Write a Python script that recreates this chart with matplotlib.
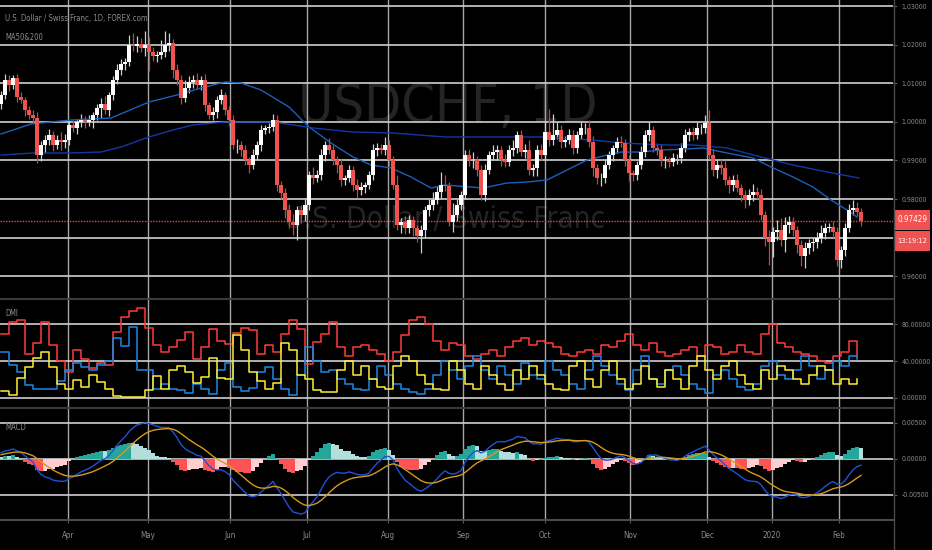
import numpy as np
import matplotlib
matplotlib.use('Agg')
import matplotlib.pyplot as plt
from matplotlib import font_manager as fm
from matplotlib.patches import Rectangle
from matplotlib.lines import Line2D

W, H = 932, 550

# daily closes, USDCHF
first_open = 1.00450
closes = [
    1.00695, 1.01083, 1.00954, 1.01135, 1.00643, 1.00565, 1.00306, 1.00177, 1.00099, 0.99140,
    0.99400, 0.99529, 0.99659, 0.99400, 0.99529, 0.99477, 0.99529, 0.99918, 0.99840, 0.99995,
    1.00047, 0.99995, 1.00047, 1.00177, 1.00358, 1.00462, 1.00306, 1.00695, 1.01083, 1.01343,
    1.01498, 1.01550, 1.01990, 1.01964, 1.02016, 1.01913, 1.01990, 1.01809, 1.01705, 1.01731,
    1.01809, 1.01990, 1.02042, 1.01343, 1.01083, 1.00617, 1.00876, 1.01032, 1.01083, 1.00954,
    1.01083, 1.00436, 1.00177, 1.00254, 1.00565, 1.00695, 1.00306, 1.00047, 0.99400, 0.99400,
    0.99270, 0.99011, 0.98881, 0.99140, 0.99400, 0.99788, 0.99840, 0.99866, 1.00047, 0.98363,
    0.98156, 0.97716, 0.97405, 0.97327, 0.97716, 0.97586, 0.97845, 0.98622, 0.98545, 0.98622,
    0.99140, 0.99400, 0.99270, 0.99011, 0.98881, 0.98493, 0.98545, 0.98752, 0.98363, 0.98234,
    0.98311, 0.98363, 0.98622, 0.99270, 0.99322, 0.99270, 0.99400, 0.99011, 0.98363, 0.97327,
    0.97405, 0.97249, 0.97457, 0.97249, 0.97042, 0.97197, 0.97716, 0.97845, 0.97975, 0.98182,
    0.98363, 0.98337, 0.97405, 0.97586, 0.97845, 0.98104, 0.99140, 0.99011, 0.99011, 0.98752,
    0.98104, 0.98752, 0.99140, 0.99218, 0.99270, 0.99011, 0.98959, 0.99270, 0.99322, 0.99659,
    0.99218, 0.99270, 0.98752, 0.98804, 0.99270, 0.99140, 0.99736, 0.99529, 0.99659, 0.99788,
    0.99477, 0.99529, 0.99659, 0.99322, 0.99659, 0.99840, 0.99840, 0.99477, 0.98804, 0.98545,
    0.98545, 0.98881, 0.99140, 0.99322, 0.99477, 0.99451, 0.99011, 0.98674, 0.98622, 0.98881,
    0.99218, 0.99659, 0.99788, 0.99322, 0.99270, 0.99011, 0.99011, 0.98959, 0.99063, 0.99063,
    0.99322, 0.99659, 0.99736, 0.99659, 0.99840, 0.99840, 0.99969, 0.99140, 0.98752, 0.98881,
    0.98804, 0.98493, 0.98363, 0.98493, 0.98286, 0.98104, 0.97975, 0.98104, 0.98182, 0.98104,
    0.97586, 0.96990, 0.96887, 0.97146, 0.97197, 0.96938, 0.97327, 0.97405, 0.97197, 0.96809,
    0.96524, 0.96731, 0.96861, 0.96887, 0.96990, 0.97120, 0.97249, 0.97275, 0.97146, 0.96420,
    0.96679, 0.97249, 0.97716, 0.97767, 0.97664, 0.97429,
]
# wick lengths beyond the body, in pips
wick_up = [
    10, 15, 12, 8, 10, 12, 8, 10, 12, 15,
    10, 12, 15, 10, 12, 20, 15, 10, 12, 8,
    15, 10, 12, 8, 10, 15, 20, 8, 10, 15,
    12, 10, 25, 30, 20, 15, 35, 20, 12, 10,
    30, 35, 25, 10, 15, 12, 20, 15, 12, 18,
    10, 15, 8, 12, 10, 15, 8, 10, 12, 15,
    10, 12, 8, 15, 10, 12, 8, 10, 15, 12,
    10, 12, 15, 20, 10, 12, 15, 10, 20, 12,
    15, 10, 18, 12, 10, 15, 8, 12, 10, 15,
    12, 8, 10, 15, 12, 10, 20, 12, 10, 25,
    10, 15, 12, 10, 8, 12, 10, 15, 20, 15,
    35, 25, 10, 30, 15, 10, 12, 15, 20, 10,
    12, 15, 10, 18, 12, 10, 15, 12, 20, 10,
    12, 15, 25, 10, 12, 15, 25, 60, 55, 20,
    12, 10, 15, 12, 10, 15, 12, 20, 15, 10,
    12, 15, 10, 8, 12, 15, 10, 12, 8, 10,
    15, 12, 20, 10, 12, 15, 10, 8, 12, 10,
    12, 15, 10, 12, 15, 10, 20, 35, 15, 12,
    15, 20, 10, 12, 15, 10, 12, 15, 20, 12,
    15, 10, 20, 12, 25, 30, 20, 15, 12, 10,
    12, 15, 10, 12, 15, 20, 12, 10, 15, 12,
    10, 12, 15, 20, 15, 10,
]
wick_dn = [
    12, 10, 15, 10, 12, 8, 15, 10, 12, 20,
    15, 20, 12, 15, 10, 20, 15, 12, 10, 15,
    12, 15, 10, 20, 12, 25, 10, 15, 12, 10,
    12, 15, 10, 12, 15, 10, 20, 50, 12, 15,
    10, 12, 15, 20, 12, 15, 10, 12, 15, 10,
    12, 15, 10, 12, 15, 10, 12, 15, 10, 20,
    15, 12, 20, 10, 12, 15, 10, 12, 10, 15,
    15, 20, 15, 25, 40, 20, 15, 12, 15, 10,
    12, 15, 10, 12, 20, 15, 12, 10, 15, 20,
    12, 15, 10, 12, 15, 10, 12, 15, 10, 12,
    20, 15, 12, 20, 15, 45, 20, 15, 12, 10,
    15, 12, 10, 25, 15, 12, 10, 15, 20, 15,
    12, 15, 10, 12, 20, 15, 12, 10, 15, 12,
    10, 15, 12, 15, 20, 12, 10, 15, 12, 10,
    15, 12, 10, 15, 12, 10, 15, 12, 20, 15,
    20, 12, 10, 15, 12, 10, 15, 20, 15, 12,
    10, 12, 15, 10, 12, 15, 20, 12, 10, 15,
    12, 10, 15, 12, 10, 15, 12, 10, 15, 20,
    15, 12, 20, 15, 10, 15, 20, 12, 15, 10,
    12, 20, 60, 40, 20, 15, 30, 20, 15, 20,
    25, 30, 15, 20, 15, 12, 15, 10, 12, 15,
    20, 15, 10, 12, 10, 12,
]

# moving averages, read at sample bars
ma50_bar = [0, 7.5, 17.5, 27.5, 37, 44, 50, 56, 60, 65, 72, 77, 82.5, 88, 92.5, 97.5, 102.5,
            107.5, 111, 120.5, 126.5, 131.5, 136.5, 140, 146.5, 151.5, 155, 160, 165, 171.5,
            175.5, 181.5, 188, 192.5, 198, 203, 207.5, 211.5, 214]
ma50_val = [0.99685, 0.99944, 1.00047, 1.00099, 1.00513, 1.00695, 1.00876, 1.01032, 1.01006,
            1.00824, 1.00384, 0.99866, 0.99451, 0.99089, 0.98881, 0.98804, 0.98571, 0.98286,
            0.98363, 0.98286, 0.98415, 0.98441, 0.98493, 0.98674, 0.99011, 0.99140, 0.99218,
            0.99218, 0.99270, 0.99296, 0.99322, 0.99192, 0.99063, 0.98830, 0.98571, 0.98311,
            0.97975, 0.97716, 0.97534]
ma200_bar = [0, 8, 17, 25, 30, 37, 43, 48, 56, 68, 78, 88, 98, 111, 118, 135, 147.5, 155.5,
             166, 173, 181.5, 190, 198, 206.5, 214.5]
ma200_val = [0.99140, 0.99192, 0.99192, 0.99218, 0.99348, 0.99607, 0.99788, 0.99918, 0.99995,
             0.99995, 0.99840, 0.99736, 0.99710, 0.99607, 0.99607, 0.99607, 0.99529, 0.99451,
             0.99400, 0.99400, 0.99322, 0.99089, 0.98881, 0.98700, 0.98545]

# DMI, one value every 2 bars
dmi_red = [70, 83, 85, 48, 60, 82, 57, 40, 28, 52, 42, 32, 38, 36, 72, 88, 94, 98, 76, 58,
           50, 55, 63, 72, 42, 55, 75, 62, 59, 71, 76, 74, 48, 58, 50, 70, 85, 75, 37, 61,
           70, 82, 55, 45, 55, 58, 52, 48, 40, 50, 68, 85, 88, 80, 62, 52, 60, 58, 45, 42,
           48, 52, 45, 55, 62, 65, 58, 62, 60, 55, 48, 45, 50, 52, 48, 58, 55, 62, 70, 58,
           52, 60, 50, 45, 48, 52, 55, 45, 58, 55, 48, 50, 58, 50, 48, 70, 80, 60, 55, 50,
           48, 45, 40, 38, 45, 50, 62, 45]
dmi_blue = [50, 36, 28, 14, 10, 10, 9, 18, 30, 38, 34, 30, 36, 40, 65, 56, 77, 30, 30, 10,
            15, 10, 8, 5, 15, 10, 4, 30, 38, 12, 7, 11, 28, 34, 20, 10, 3, 25, 55, 40,
            28, 30, 20, 15, 10, 8, 20, 35, 25, 15, 10, 6, 4, 10, 25, 40, 30, 20, 35, 45,
            30, 20, 35, 25, 15, 38, 25, 20, 40, 30, 25, 15, 10, 30, 45, 35, 25, 15, 8, 30,
            45, 20, 15, 30, 35, 25, 15, 10, 5, 25, 30, 20, 12, 8, 15, 35, 40, 25, 20, 30,
            45, 35, 20, 30, 40, 35, 45, 42]
dmi_yellow = [7, 3, 22, 33, 43, 50, 33, 15, 9, 19, 12, 25, 17, 10, 2, 1, 1, 1, 8, 24,
              9, 30, 35, 28, 16, 23, 43, 22, 20, 68, 52, 28, 18, 10, 16, 60, 52, 25, 20, 8,
              6, 6, 30, 40, 25, 35, 20, 12, 10, 35, 45, 40, 25, 15, 10, 8, 40, 30, 15, 10,
              35, 25, 15, 8, 30, 20, 35, 25, 15, 10, 8, 35, 40, 20, 12, 30, 40, 20, 10, 15,
              35, 20, 12, 30, 20, 10, 35, 45, 30, 20, 35, 40, 25, 15, 10, 30, 20, 35, 30, 20,
              15, 25, 35, 30, 15, 20, 15, 20]

# MACD / signal values at the left edge of the chart
macd_start = 0.0009
signal_start = 0.0005

month_pos = [16.75, 36.75, 57.25, 76.5, 96.75, 115.5, 136, 157.25, 176.5, 192.75, 209.5]
month_labels = ['Apr', 'May', 'Jun', 'Jul', 'Aug', 'Sep', 'Oct', 'Nov', 'Dec', '2020', 'Feb']
price_ticks = [0.96, 0.97, 0.98, 0.99, 1.00, 1.01, 1.02, 1.03]
dmi_ticks = [0, 40, 80]
macd_ticks = [-0.005, 0.0, 0.005]
last_price = 0.97429
countdown = '13:19:12'

BG = '#000000'
TXT = '#8c8c8c'
HGRID = '#cfcfcf'
VGRID = '#a6a6a6'
UP = '#ffffff'
DOWN = '#ef5350'


# narrow font if one is installed, else DejaVu Sans
def pick_font():
    rank = {'extra-condensed': 0, 'condensed': 1, 'semi-condensed': 2}
    best = None
    for f in fm.fontManager.ttflist:
        st = str(f.stretch).lower()
        narrow = st in rank or 'narrow' in f.name.lower() or 'condensed' in f.name.lower()
        if not narrow or f.style != 'normal' or f.weight not in (400, 'normal', 'regular'):
            continue
        r = rank.get(st, 1)
        if best is None or r < best[0]:
            best = (r, f.fname)
    if best:
        return fm.FontProperties(fname=best[1])
    return fm.FontProperties(family='DejaVu Sans')


def ema(values, span, start):
    a = 2 / (span + 1)
    out = np.empty(len(values))
    prev = start
    for i, v in enumerate(values):
        prev = a * v + (1 - a) * prev
        out[i] = prev
    return out


FONT = pick_font()

fig = plt.figure(figsize=(W / 100, H / 100), dpi=100, facecolor=BG)
renderer = fig.canvas.get_renderer()


def fp(size):
    p = FONT.copy()
    p.set_size(size)
    return p


def fit(s, width_px, cap):
    t = fig.text(0, 0, s, fontproperties=fp(10))
    w = t.get_window_extent(renderer).width
    t.remove()
    return min(cap, 10 * width_px / w)


TICK_SIZE = fit('80.00000', 30, 8)
AXIS_SIZE = fit('May', 15, 8.5)


def panel(top, bottom, ylim, ticks, hide=()):
    ax = fig.add_axes([0, 1 - bottom / H, 893 / W, (bottom - top) / H])
    ax.set_facecolor(BG)
    for s in ax.spines.values():
        s.set_visible(False)
    ax.set_xlim(-0.25, 223)
    ax.set_ylim(*ylim)
    ax.yaxis.tick_right()
    ax.set_yticks(ticks)
    ax.set_yticklabels(['' if t in hide else '%.5f' % t for t in ticks],
                       fontproperties=fp(TICK_SIZE))
    ax.tick_params(axis='y', colors='#5a5a5a', labelcolor=TXT, length=3, pad=3)
    ax.tick_params(axis='x', bottom=False, labelbottom=False)
    ax.set_axisbelow(True)
    ax.grid(axis='y', color=HGRID, lw=1.2)
    for m in month_pos:
        ax.axvline(m, color=VGRID, lw=1.0, zorder=0.4)
    return ax


# the 0.97 label sits under the last-price tag
ax_p = panel(0, 298, (0.95436, 1.03156), price_ticks, hide=(0.97,))
ax_d = panel(299, 407, (-10.1, 107.6), dmi_ticks)
ax_m = panel(408, 519, (-0.008376, 0.007042), macd_ticks)

# watermark behind the candles
for s, x0, x1, ybase in [('USDCHF, 1D', 298, 597, 122), ('U.S. Dollar / Swiss Franc', 284, 606, 228)]:
    ax_p.text((x0 + x1) / 2 / W, 1 - ybase / H, s, transform=fig.transFigure,
              fontproperties=fp(fit(s, x1 - x0, 80)), color='#242424',
              ha='center', va='baseline', zorder=0.2)

# candles
c = np.array(closes)
n = len(c)
x = np.arange(n)
o = np.r_[first_open, c[:-1]]
hi = np.maximum(o, c) + np.array(wick_up) * 1e-4
lo = np.minimum(o, c) - np.array(wick_dn) * 1e-4
up = c >= o
ax_p.vlines(x, lo, hi, colors=np.where(up, '#cfcfcf', '#c84444'), lw=0.9, zorder=2)
body = np.maximum(np.abs(c - o), 0.00008)
ax_p.bar(x, body, bottom=np.minimum(o, c), width=0.8, color=np.where(up, UP, DOWN),
         lw=0, zorder=3)

ax_p.plot(ma50_bar, ma50_val, color='#1c5fb8', lw=1.0, zorder=2.5)
ax_p.plot(ma200_bar, ma200_val, color='#1238a8', lw=1.0, zorder=2.5)
ax_p.axhline(last_price, color='#e04848', lw=1.0, ls=(0, (1, 1)), zorder=1.5)

# DMI
xd = np.arange(len(dmi_red)) * 2
ax_d.plot(xd, dmi_red, drawstyle='steps-post', color='#ff3b3b', lw=1.1, zorder=3)
ax_d.plot(xd, dmi_blue, drawstyle='steps-post', color='#1e88e5', lw=1.1, zorder=3)
ax_d.plot(xd, dmi_yellow, drawstyle='steps-post', color='#ffee33', lw=1.1, zorder=3)

# MACD 12/26/9 from closes, EMAs seeded so the left edge starts where the chart does
macd = ema(c, 12, c[0]) - ema(c, 26, c[0] - macd_start)
signal = ema(macd, 9, signal_start)
hist = macd - signal
prev = np.r_[hist[0], hist[:-1]]
cols = np.where(hist >= 0, np.where(hist > prev, '#26a69a', '#b2dfdb'),
                np.where(hist > prev, '#ffcdd2', '#ff5252'))
ax_m.bar(x, hist, width=1.0, color=cols, lw=0, zorder=1)
ax_m.plot(x, macd, color='#2152d6', lw=1.0, zorder=3)
ax_m.plot(x, signal, color='#d39a1c', lw=1.0, zorder=3)

ax_m.set_xticks(month_pos)
ax_m.set_xticklabels(month_labels, fontproperties=fp(AXIS_SIZE))
ax_m.tick_params(axis='x', bottom=True, labelbottom=True, length=3, color='#5a5a5a',
                 labelcolor=TXT, pad=6)

# separators
for yy, col in [(298.5, '#3a3a3a'), (407.5, '#3a3a3a'), (519.5, '#4a4a4a')]:
    fig.add_artist(Line2D([0, 893 / W], [1 - yy / H] * 2, color=col, lw=1.5))
fig.add_artist(Line2D([893.5 / W] * 2, [0, 1], color='#4a4a4a', lw=1.0))

# headers
for s, yy, wpx in [('U.S. Dollar / Swiss Franc, 1D, FOREX.com', 18, 143), ('MA50&200', 37, 38),
                   ('DMI', 314, 13), ('MACD', 428, 21)]:
    fig.text(5 / W, 1 - yy / H, s, color=TXT, fontproperties=fp(fit(s, wpx, 8.5)), va='center')

# last price tags
for (yt, yb, label) in [(210, 230, '%.5f' % last_price), (231, 251, countdown)]:
    fig.add_artist(Rectangle((894 / W, 1 - yb / H), 36 / W, (yb - yt) / H,
                             facecolor='#f05252', edgecolor='none'))
    fig.text(912 / W, 1 - (yt + yb) / 2 / H, label, color='white',
             fontproperties=fp(fit(label, 30, 8.5)), ha='center', va='center')

fig.savefig('out.png', dpi=100, facecolor=BG)
